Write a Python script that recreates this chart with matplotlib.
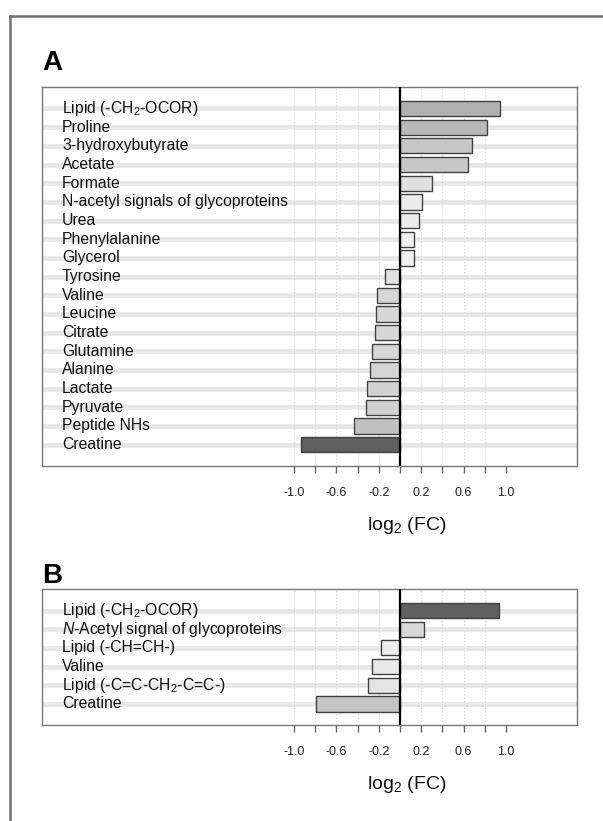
import numpy as np
import matplotlib
matplotlib.use('Agg')
import matplotlib.pyplot as plt
from matplotlib.lines import Line2D
import matplotlib.transforms as mtransforms

plt.rcParams['font.family'] = ['Liberation Sans', 'DejaVu Sans']
plt.rcParams['mathtext.fontset'] = 'custom'
plt.rcParams['mathtext.rm'] = 'Liberation Sans'
plt.rcParams['mathtext.it'] = 'Liberation Sans:italic'
plt.rcParams['mathtext.bf'] = 'Liberation Sans:bold'

# DATA
labels_a = ['Lipid (-CH$_2$-OCOR)', 'Proline', '3-hydroxybutyrate', 'Acetate', 'Formate',
            'N-acetyl signals of glycoproteins', 'Urea', 'Phenylalanine', 'Glycerol',
            'Tyrosine', 'Valine', 'Leucine', 'Citrate', 'Glutamine', 'Alanine',
            'Lactate', 'Pyruvate', 'Peptide NHs', 'Creatine']
values_a = [0.94, 0.82, 0.68, 0.64, 0.30, 0.21, 0.18, 0.13, 0.13,
            -0.14, -0.22, -0.23, -0.24, -0.26, -0.28, -0.31, -0.32, -0.43, -0.93]
colors_a = ['#b0b0b0', '#b8b8b8', '#c6c6c6', '#c8c8c8', '#e0e0e0', '#ececec', '#ececec',
            '#f0f0f0', '#f0f0f0', '#e2e2e2', '#d6d6d6', '#d6d6d6', '#d6d6d6', '#d6d6d6',
            '#d4d4d4', '#d2d2d2', '#d2d2d2', '#c0c0c0', '#606060']

labels_b = ['Lipid (-CH$_2$-OCOR)', '$N$-Acetyl signal of glycoproteins', 'Lipid (-CH=CH-)',
            'Valine', 'Lipid (-C=C-CH$_2$-C=C-)', 'Creatine']
values_b = [0.93, 0.23, -0.18, -0.26, -0.30, -0.79]
colors_b = ['#606060', '#d8d8d8', '#ececec', '#e8e8e8', '#e4e4e4', '#c4c4c4']

tick_vals = np.round(np.arange(-1.0, 1.01, 0.2), 1)
tick_text = ['-1.0', '', '-0.6', '', '-0.2', '', '0.2', '', '0.6', '', '1.0']

W, H = 603, 821
fig = plt.figure(figsize=(W / 100, H / 100), dpi=100)

# outer frame (left + top edges)
fig.add_artist(Line2D([10 / W, 10 / W], [0, 1 - 16 / H], color='#707070', lw=1.8,
                      transform=fig.transFigure))
fig.add_artist(Line2D([10 / W, 1], [1 - 16 / H, 1 - 16 / H], color='#707070', lw=1.8,
                      transform=fig.transFigure))


def panel(top, bottom, labels, values, colors, letter, letter_y):
    ax = fig.add_axes([42 / W, 1 - bottom / H, 535 / W, (bottom - top) / H])
    n = len(labels)
    y = np.arange(n)
    row = 18.67
    ax.set_xlim((42 - 400) / 106, (577 - 400) / 106)
    ax.set_ylim((bottom - top - 21.5) / row, -21.5 / row)

    for yi in y:
        ax.axhline(yi, color='#e8e8e8', lw=3.5, zorder=0)
    for xv in tick_vals[:-1]:
        if abs(xv) > 1e-9:
            ax.axvline(xv, color='#d4d4d4', lw=0.8, ls=(0, (1, 2)), zorder=0.5)

    ax.barh(y, values, height=0.82, color=colors, edgecolor='#404040', lw=1, zorder=2)
    ax.axvline(0, color='black', lw=1.6, zorder=3)

    trans = mtransforms.blended_transform_factory(ax.transAxes, ax.transData)
    for yi, lab in zip(y, labels):
        ax.text(20 / 535, yi, lab, transform=trans, ha='left', va='center',
                fontsize=11.3, color='#111111', zorder=4)

    ax.set_yticks([])
    ax.set_xticks(tick_vals)
    ax.set_xticklabels(tick_text, fontsize=9, color='#222222')
    ax.tick_params(axis='x', direction='out', length=5, width=1, color='#666666', pad=10)
    for s in ax.spines.values():
        s.set_color('#777777')
        s.set_linewidth(1)

    ax.text(0.06, (bottom - top + 59 - 21.5) / row, 'log$_2$ (FC)',
            ha='center', va='center', fontsize=14, color='#111111', clip_on=False)
    fig.text(42 / W, 1 - letter_y / H, letter, fontsize=20, fontweight='bold',
             ha='left', va='center')
    return ax


panel(87, 466, labels_a, values_a, colors_a, 'A', 63)
panel(589, 725, labels_b, values_b, colors_b, 'B', 576)

fig.savefig('out.png', dpi=100)
